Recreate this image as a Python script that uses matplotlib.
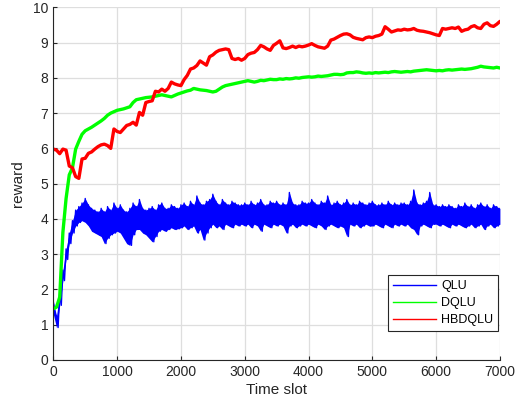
import numpy as np
import matplotlib
matplotlib.use("Agg")
import matplotlib.pyplot as plt

plt.rcParams['font.family'] = ['Liberation Sans', 'DejaVu Sans']

step = 50  # time slots between read-off samples

# QLU: upper / lower edge of the noisy band, every 50 slots
qlu_hi = [1.65, 1.25, 1.9, 2.55, 3.15, 3.6, 3.95, 4.25, 4.35, 4.45,
          4.58, 4.4, 4.3, 4.25, 4.2, 4.3, 4.2, 4.35, 4.25, 4.45,
          4.3, 4.4, 4.25, 4.2, 4.3, 4.45, 4.35, 4.55, 4.3, 4.25,
          4.3, 4.35, 4.25, 4.4, 4.45, 4.3, 4.3, 4.4, 4.35, 4.3,
          4.4, 4.45, 4.35, 4.5, 4.4, 4.65, 4.45, 4.4, 4.5, 4.55,
          4.7, 4.5, 4.4, 4.55, 4.45, 4.4, 4.5, 4.45, 4.4, 4.4,
          4.45, 4.4, 4.5, 4.4, 4.45, 4.55, 4.4, 4.4, 4.5, 4.45,
          4.5, 4.4, 4.45, 4.4, 4.75, 4.45, 4.4, 4.4, 4.5, 4.45,
          4.45, 4.55, 4.45, 4.4, 4.5, 4.45, 4.65, 4.4, 4.45, 4.5,
          4.4, 4.45, 4.55, 4.4, 4.45, 4.4, 4.5, 4.45, 4.4, 4.45,
          4.5, 4.4, 4.4, 4.45, 4.4, 4.5, 4.4, 4.45, 4.4, 4.45,
          4.45, 4.4, 4.5, 4.82, 4.45, 4.4, 4.45, 4.5, 4.75, 4.4,
          4.4, 4.35, 4.4, 4.35, 4.4, 4.35, 4.3, 4.4, 4.35, 4.45,
          4.35, 4.4, 4.3, 4.4, 4.45, 4.35, 4.4, 4.3, 4.4, 4.35,
          4.3]
qlu_lo = [1.3, 0.92, 1.55, 2.25, 2.85, 3.3, 3.6, 3.8, 3.9, 3.95,
          3.9, 3.8, 3.65, 3.6, 3.55, 3.5, 3.3, 3.45, 3.55, 3.6,
          3.65, 3.6, 3.45, 3.3, 3.25, 3.55, 3.7, 3.7, 3.6, 3.55,
          3.45, 3.35, 3.5, 3.65, 3.7, 3.65, 3.7, 3.75, 3.7, 3.72,
          3.75, 3.8, 3.7, 3.75, 3.8, 3.6, 3.7, 3.4, 3.6, 3.75,
          3.85, 3.75, 3.8, 3.7, 3.85, 3.8, 3.75, 3.85, 3.8, 3.85,
          3.8, 3.85, 3.75, 3.85, 3.8, 3.65, 3.85, 3.8, 3.75, 3.85,
          3.8, 3.85, 3.8, 3.6, 3.8, 3.85, 3.75, 3.8, 3.85, 3.8,
          3.85, 3.8, 3.75, 3.85, 3.8, 3.7, 3.8, 3.85, 3.8, 3.75,
          3.8, 3.75, 3.5, 3.85, 3.8, 3.85, 3.75, 3.8, 3.85, 3.8,
          3.8, 3.85, 3.8, 3.75, 3.85, 3.8, 3.75, 3.85, 3.8, 3.85,
          3.8, 3.85, 3.75, 3.7, 3.55, 3.8, 3.85, 3.8, 3.75, 3.85,
          3.85, 3.8, 3.85, 3.8, 3.75, 3.85, 3.8, 3.85, 3.8, 3.75,
          3.8, 3.85, 3.75, 3.8, 3.85, 3.7, 3.8, 3.85, 3.75, 3.8,
          3.85]

dqlu = [1.45, 1.5, 1.78, 3.62, 4.58, 5.25, 5.45, 5.98, 6.2, 6.4,
        6.5, 6.55, 6.6, 6.66, 6.72, 6.78, 6.85, 6.94, 7.0, 7.04,
        7.08, 7.1, 7.12, 7.15, 7.18, 7.3, 7.38, 7.4, 7.42, 7.44,
        7.45, 7.46, 7.48, 7.5, 7.52, 7.5, 7.48, 7.46, 7.5, 7.54,
        7.57, 7.6, 7.63, 7.65, 7.7, 7.68, 7.66, 7.65, 7.64, 7.62,
        7.6, 7.62, 7.68, 7.74, 7.78, 7.8, 7.82, 7.84, 7.86, 7.88,
        7.9, 7.92, 7.9, 7.88, 7.9, 7.93, 7.92, 7.94, 7.96, 7.95,
        7.95, 7.97, 7.96, 7.98, 7.97, 7.98, 8.0, 7.99, 8.01, 8.02,
        8.03, 8.02, 8.03, 8.05, 8.04, 8.05, 8.06, 8.08, 8.1, 8.1,
        8.09, 8.1, 8.14, 8.15, 8.15, 8.17, 8.16, 8.14, 8.13, 8.14,
        8.13, 8.15, 8.14, 8.15, 8.16, 8.15, 8.17, 8.18, 8.17, 8.16,
        8.17, 8.18, 8.17, 8.19, 8.2, 8.21, 8.22, 8.23, 8.22, 8.21,
        8.2, 8.21, 8.2, 8.22, 8.23, 8.22, 8.23, 8.24, 8.25, 8.24,
        8.25, 8.26, 8.28, 8.3, 8.33, 8.31, 8.3, 8.29, 8.28, 8.3,
        8.28]

hbdqlu = [5.98, 5.95, 5.85, 5.98, 5.95, 5.5, 5.45, 5.2, 5.15, 5.7,
          5.72, 5.86, 5.9, 5.98, 6.05, 6.1, 6.12, 6.08, 6.0, 6.55,
          6.48, 6.45, 6.55, 6.65, 6.68, 6.74, 6.66, 7.02, 6.94, 7.3,
          7.33, 7.35, 7.62, 7.6, 7.68, 7.62, 7.7, 7.88, 7.83, 7.8,
          7.78, 7.95, 8.07, 8.25, 8.28, 8.35, 8.48, 8.42, 8.36, 8.6,
          8.65, 8.73, 8.78, 8.8, 8.82, 8.8, 8.55, 8.52, 8.55, 8.5,
          8.55, 8.66, 8.7, 8.72, 8.8, 8.92, 8.88, 8.82, 8.78, 8.92,
          8.98, 9.05, 8.85, 8.83, 8.86, 8.9, 8.86, 8.9, 8.88, 8.9,
          8.93, 8.97, 8.92, 8.88, 8.86, 8.84, 8.9, 9.07, 9.1, 9.15,
          9.2, 9.24, 9.25, 9.22, 9.15, 9.12, 9.1, 9.08, 9.14, 9.16,
          9.14, 9.18, 9.2, 9.24, 9.45, 9.38, 9.3, 9.33, 9.36, 9.35,
          9.38, 9.36, 9.37, 9.4, 9.35, 9.33, 9.32, 9.3, 9.28, 9.25,
          9.22, 9.2, 9.4, 9.38, 9.4, 9.42, 9.4, 9.44, 9.32, 9.36,
          9.38, 9.45, 9.48, 9.42, 9.4, 9.52, 9.56, 9.48, 9.46, 9.52,
          9.6, 9.58, 9.55, 9.52]

t = np.arange(len(dqlu)) * step
# QLU drawn as its band (filled) plus a zig-zag between the upper and lower edges
tq = np.arange(len(qlu_hi)) * step
tq_zig = np.column_stack([tq, tq + step / 2]).ravel()
q_zig = np.column_stack([qlu_hi, qlu_lo]).ravel()

fig = plt.figure(figsize=(5.29, 4.07), dpi=100)
ax = fig.add_axes([0.1008, 0.1155, 0.8442, 0.8665])

ax.fill_between(tq, qlu_lo, qlu_hi, color='#0000ff', lw=0)
ax.plot(tq_zig, q_zig, color='#0000ff', lw=1.0, label='QLU')
ax.plot(t, dqlu, color='#00ff00', lw=2.4, label='DQLU')
ax.plot(np.arange(len(hbdqlu)) * step, hbdqlu, color='#ff0000', lw=2.4, label='HBDQLU')

ax.set_xlim(0, 7000)
ax.set_ylim(0, 10)
ax.set_xticks(range(0, 7001, 1000))
ax.set_yticks(range(0, 11))
ax.grid(True, color='#dedede', lw=0.9)
ax.set_axisbelow(True)
for s in ['top', 'right']:
    ax.spines[s].set_visible(False)
for s in ['left', 'bottom']:
    ax.spines[s].set_color('#262626')
    ax.spines[s].set_linewidth(0.8)
ax.tick_params(direction='in', length=3, width=0.8, colors='#262626',
               labelsize=10, labelcolor='#262626')
ax.set_xlabel('Time slot', fontsize=11, color='#262626', labelpad=3)
ax.set_ylabel('reward', fontsize=11, color='#262626', labelpad=6)

leg = ax.legend(loc='lower right', bbox_to_anchor=(0.996, 0.082), borderaxespad=0,
                fontsize=9, fancybox=False, framealpha=1, handlelength=3.4,
                handletextpad=0.4, borderpad=0.4, labelspacing=0.4)
leg.get_frame().set_edgecolor('#262626')
leg.get_frame().set_linewidth(0.8)
for ln in leg.get_lines():
    ln.set_linewidth(1.0)

fig.savefig('out.png', dpi=100)
